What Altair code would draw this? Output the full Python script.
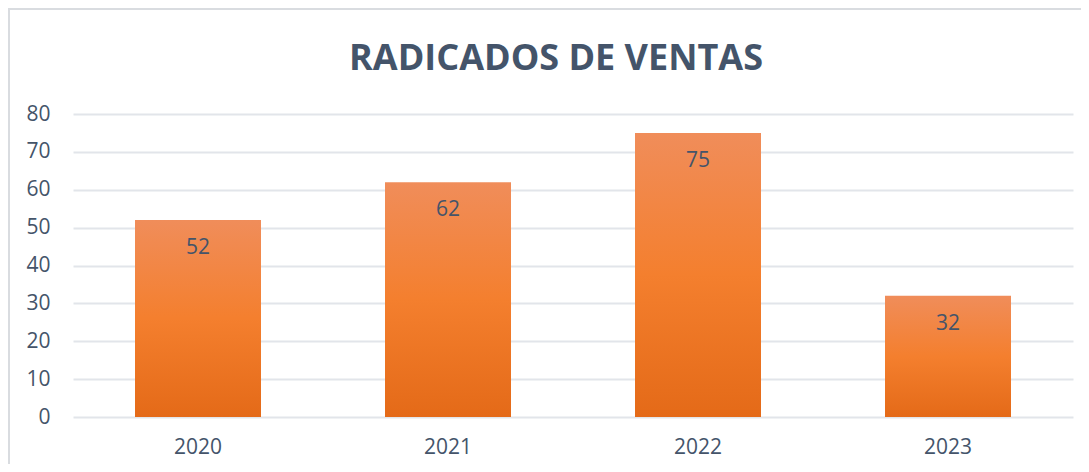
import altair as alt
import pandas as pd

years = ["2020", "2021", "2022", "2023"]
values = [52, 62, 75, 32]
tick_values = [0, 10, 20, 30, 40, 50, 60, 70, 80]
title_text = "RADICADOS DE VENTAS"

df = pd.DataFrame({"year": years, "value": values})
frame_df = pd.DataFrame({"k": [0]})

text_color = "#44546A"
font = "Open Sans"

grad = alt.Gradient(
    gradient="linear",
    stops=[
        alt.GradientStop(color="#F08D5A", offset=0),
        alt.GradientStop(color="#F47F2E", offset=0.5),
        alt.GradientStop(color="#E46A18", offset=1),
    ],
    x1=1, x2=1, y1=0, y2=1,
)

x_enc = alt.X("year:N", sort=years, title=None,
              scale=alt.Scale(paddingInner=0.496, paddingOuter=0.248),
              axis=alt.Axis(labelAngle=0, labelFont=font, labelFontSize=21,
                            labelColor=text_color, ticks=False, domain=False,
                            labelPadding=19))
y_enc = alt.Y("value:Q", title=None,
              scale=alt.Scale(domain=[0, 80], nice=False, zero=True),
              axis=alt.Axis(values=tick_values, labelFont=font,
                            labelFontSize=21, labelColor=text_color, ticks=False,
                            domain=False, labelPadding=23, gridColor="#E2E5EA",
                            gridWidth=2, labelOverlap=False, tickCount=9))

base = alt.Chart(df).encode(x=x_enc, y=y_enc)

bars = base.mark_bar(color=grad)

labels = base.mark_text(font=font, fontSize=21, color=text_color,
                        baseline="middle", dy=28).encode(text="value:Q")

frame = alt.Chart(frame_df).mark_rect(fill=None, stroke="#D9DCE0", strokeWidth=2).encode(
    x=alt.value(-64), x2=alt.value(1040), y=alt.value(-105), y2=alt.value(400)
)

chart = alt.layer(frame, bars, labels).properties(
    width=1000,
    height=303,
    background="white",
    title=alt.TitleParams(title_text, font=font, fontSize=36, fontWeight="bold",
                          color=text_color, anchor="middle", frame="group",
                          baseline="alphabetic", dx=-17, dy=98, offset=0),
    autosize=alt.AutoSizeParams(type="none"),
    padding={"left": 65, "top": 106, "right": 8, "bottom": 47},
).configure_view(stroke=None)

chart.save("out.html", embed_options={"renderer": "svg", "actions": False})
